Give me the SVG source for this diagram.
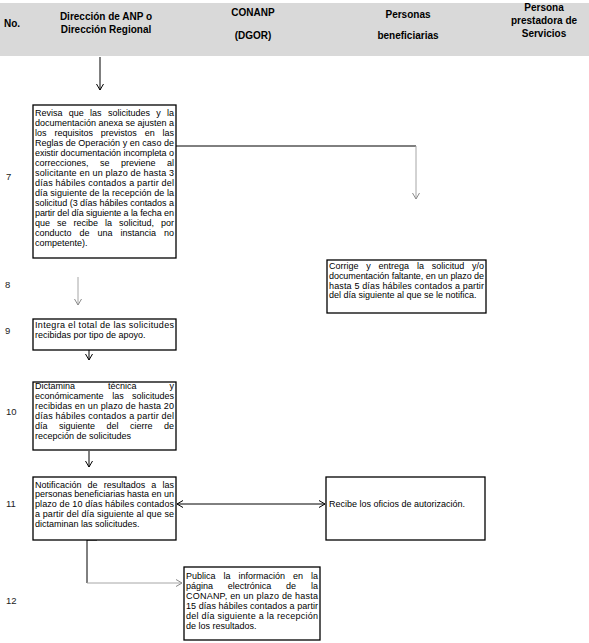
<svg xmlns="http://www.w3.org/2000/svg" width="589" height="643" viewBox="0 0 589 643">
<style>
text{font-family:"Liberation Sans",Arial,sans-serif;font-size:9px;fill:#000}
.h{font-weight:bold;font-size:10px;text-anchor:middle}
.hn{font-weight:bold;font-size:10px}
.n{font-size:9.5px;fill:#222}
.e{text-anchor:end}
.box{fill:#fff;stroke:#000;stroke-width:1.3}
.c{fill:none;stroke:#000;stroke-width:1}
.g{fill:none;stroke:#a6a6a6;stroke-width:1}
</style>
<defs>
<marker id="ab" markerWidth="10" markerHeight="10" refX="0" refY="0" viewBox="-8 -5 10 10" orient="auto" markerUnits="userSpaceOnUse"><path d="M-6,-3.5 L0,0 L-6,3.5" fill="none" stroke="#000" stroke-width="1"/></marker>
<marker id="ag" markerWidth="10" markerHeight="10" refX="0" refY="0" viewBox="-8 -5 10 10" orient="auto" markerUnits="userSpaceOnUse"><path d="M-6,-3.5 L0,0 L-6,3.5" fill="none" stroke="#8a8a8a" stroke-width="1"/></marker>
<marker id="as" markerWidth="10" markerHeight="10" refX="0" refY="0" viewBox="-8 -5 10 10" orient="auto-start-reverse" markerUnits="userSpaceOnUse"><path d="M-6,-3.5 L0,0 L-6,3.5" fill="none" stroke="#000" stroke-width="1"/></marker>
</defs>
<rect x="0" y="0" width="589" height="643" fill="#fff"/>
<g id="header">
<rect x="0" y="3" width="589" height="53" fill="#d9d9d9"/>
<text class="hn" x="4" y="27">No.</text>
<text class="h" x="106" y="20">Dirección de ANP o</text>
<text class="h" x="106" y="33">Dirección Regional</text>
<text class="h" x="253" y="16">CONANP</text>
<text class="h" x="253" y="39">(DGOR)</text>
<text class="h" x="408" y="18">Personas</text>
<text class="h" x="408" y="39">beneficiarias</text>
<text class="h" x="544" y="11">Persona</text>
<text class="h" x="544" y="24">prestadora de</text>
<text class="h" x="544" y="37">Servicios</text>
</g>
<g id="numbers">
<text class="n" x="6" y="180">7</text>
<text class="n" x="5" y="288">8</text>
<text class="n" x="5" y="334">9</text>
<text class="n" x="6" y="415">10</text>
<text class="n" x="6" y="507">11</text>
<text class="n" x="6" y="604">12</text>
</g>
<g id="connectors">
<line class="c" x1="100" y1="57" x2="100" y2="90" marker-end="url(#ab)"/>
<polyline class="c" points="176,146 416,146"/>
<line class="g" x1="416" y1="146" x2="416" y2="199" marker-end="url(#ag)"/>
<line class="g" x1="78" y1="277" x2="78" y2="305" marker-end="url(#ag)"/>
<line class="c" x1="89" y1="345" x2="89" y2="360" marker-end="url(#ab)"/>
<line class="c" x1="89" y1="451" x2="89" y2="467" marker-end="url(#ab)"/>
<line class="c" x1="177" y1="504" x2="325" y2="504" marker-start="url(#as)" marker-end="url(#as)"/>
<polyline class="c" points="97,540 87,540 87,583"/>
<line class="g" x1="87" y1="583" x2="182" y2="583" marker-end="url(#ag)"/>
</g>
<g id="n7">
<rect class="box" x="33" y="105" width="143" height="153"/>
<text y="115.5"><tspan x="35">Revisa</tspan><tspan x="68.8">que</tspan><tspan x="90.1">las</tspan><tspan x="107.9">solicitudes</tspan><tspan x="156.2">y</tspan></text><text class="e" x="174" y="115.5">la</text>
<text x="35" y="125.5" textLength="139" lengthAdjust="spacing">documentación anexa se ajusten a</text>
<text y="135.5"><tspan x="35">los</tspan><tspan x="54.4">requisitos</tspan><tspan x="100.8">previstos</tspan><tspan x="144.7">en</tspan></text><text class="e" x="174" y="135.5">las</text>
<text x="35" y="145.5" textLength="139" lengthAdjust="spacing">Reglas de Operación y en caso de</text>
<text x="35" y="155.5" textLength="139" lengthAdjust="spacing">existir documentación incompleta o</text>
<text y="165.5"><tspan x="35">correcciones,</tspan><tspan x="100">se</tspan><tspan x="121">previene</tspan></text><text class="e" x="174" y="165.5">al</text>
<text x="35" y="175.5" textLength="139" lengthAdjust="spacing">solicitante en un plazo de hasta 3</text>
<text x="35" y="185.5" textLength="139" lengthAdjust="spacing">días hábiles contados a partir del</text>
<text x="35" y="195.5" textLength="139" lengthAdjust="spacing">día siguiente de la recepción de la</text>
<text x="35" y="205.5" textLength="139" lengthAdjust="spacing">solicitud (3 días hábiles contados a</text>
<text x="35" y="215.5" textLength="139" lengthAdjust="spacing">partir del día siguiente a la fecha en</text>
<text y="225.5"><tspan x="35">que</tspan><tspan x="57">se</tspan><tspan x="73.5">recibe</tspan><tspan x="105">la</tspan><tspan x="119">solicitud,</tspan></text><text class="e" x="174" y="225.5">por</text>
<text y="235.5"><tspan x="35">conducto</tspan><tspan x="79.5">de</tspan><tspan x="97.5">una</tspan><tspan x="120.5">instancia</tspan></text><text class="e" x="174" y="235.5">no</text>
<text x="35" y="245.5">competente).</text>
</g>
<g id="n8">
<rect class="box" x="327" y="260" width="159" height="53"/>
<text y="269"><tspan x="329">Corrige</tspan><tspan x="366.3">y</tspan><tspan x="378.6">entrega</tspan><tspan x="416.9">la</tspan><tspan x="431.7">solicitud</tspan></text><text class="e" x="484" y="269">y/o</text>
<text x="329" y="278.8" textLength="155" lengthAdjust="spacing">documentación faltante, en un plazo de</text>
<text x="329" y="288.6" textLength="155" lengthAdjust="spacing">hasta 5 días hábiles contados a partir</text>
<text x="329" y="298.4">del día siguiente al que se le notifica.</text>
</g>
<g id="n9">
<rect class="box" x="33" y="319" width="143" height="31"/>
<text x="35" y="327.5" textLength="139" lengthAdjust="spacing">Integra el total de las solicitudes</text>
<text x="35" y="337.5">recibidas por tipo de apoyo.</text>
</g>
<g id="n10">
<rect class="box" x="33" y="382" width="143" height="68"/>
<text y="388.5"><tspan x="35">Dictamina</tspan><tspan x="108">técnica</tspan></text><text class="e" x="174" y="388.5">y</text>
<text y="398.6"><tspan x="35">económicamente</tspan><tspan x="112.3">las</tspan></text><text class="e" x="174" y="398.6">solicitudes</text>
<text x="35" y="408.7" textLength="139" lengthAdjust="spacing">recibidas en un plazo de hasta 20</text>
<text x="35" y="418.8" textLength="139" lengthAdjust="spacing">días hábiles contados a partir del</text>
<text y="428.9"><tspan x="35">día</tspan><tspan x="59">siguiente</tspan><tspan x="106.5">del</tspan><tspan x="130">cierre</tspan></text><text class="e" x="174" y="428.9">de</text>
<text x="35" y="439">recepción de solicitudes</text>
</g>
<g id="n11">
<rect class="box" x="33" y="477" width="143" height="63"/>
<text y="487.5"><tspan x="35">Notificación</tspan><tspan x="87.6">de</tspan><tspan x="103.7">resultados</tspan><tspan x="151.3">a</tspan></text><text class="e" x="174" y="487.5">las</text>
<text x="35" y="497.3" textLength="139" lengthAdjust="spacing">personas beneficiarias hasta en un</text>
<text x="35" y="507.1" textLength="139" lengthAdjust="spacing">plazo de 10 días hábiles contados</text>
<text x="35" y="516.9" textLength="139" lengthAdjust="spacing">a partir del día siguiente al que se</text>
<text x="35" y="526.7">dictaminan las solicitudes.</text>
</g>
<g id="n11b">
<rect class="box" x="326" y="477" width="159" height="63"/>
<text x="329" y="506.5">Recibe los oficios de autorización.</text>
</g>
<g id="n12">
<rect class="box" x="184" y="567" width="136" height="73"/>
<text y="578.5"><tspan x="186">Publica</tspan><tspan x="223.5">la</tspan><tspan x="238.5">información</tspan><tspan x="293">en</tspan></text><text class="e" x="318" y="578.5">la</text>
<text y="588.5"><tspan x="186">página</tspan><tspan x="227.8">electrónica</tspan><tspan x="286.1">de</tspan></text><text class="e" x="318" y="588.5">la</text>
<text x="186" y="598.5" textLength="132" lengthAdjust="spacing">CONANP, en un plazo de hasta</text>
<text x="186" y="608.5" textLength="132" lengthAdjust="spacing">15 días hábiles contados a partir</text>
<text x="186" y="618.5" textLength="132" lengthAdjust="spacing">del día siguiente a la recepción</text>
<text x="186" y="628.5">de los resultados.</text>
</g>
</svg>
